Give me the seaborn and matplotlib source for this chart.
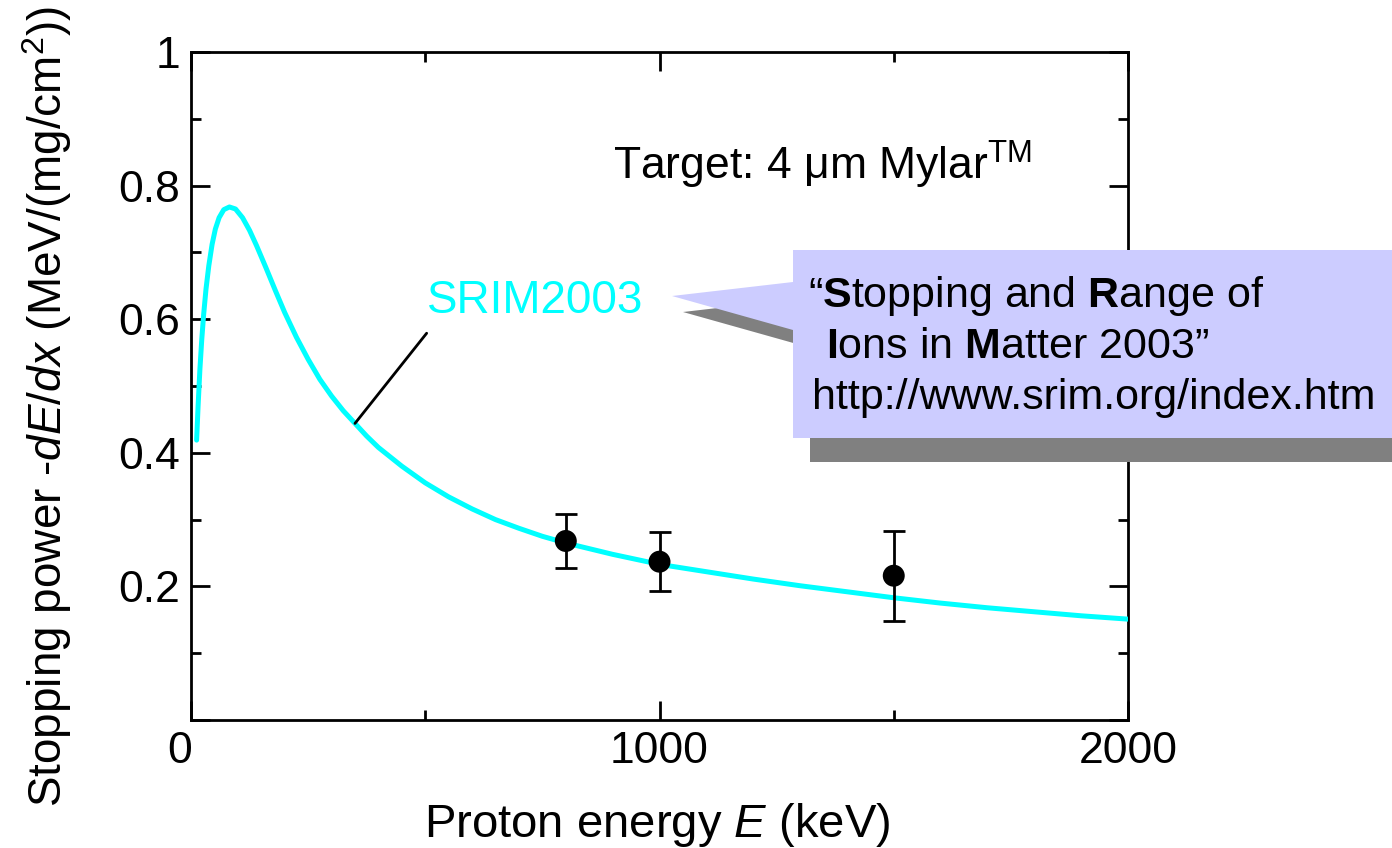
import matplotlib
matplotlib.use("Agg")
import matplotlib.pyplot as plt
import matplotlib.transforms as mtransforms
import seaborn as sns
import pandas as pd
from matplotlib import font_manager
from matplotlib.patches import Polygon

# ---------------- data ----------------
srim_energy = [12, 15, 19, 23, 27, 32, 38, 45, 52, 60, 70, 82, 95, 110, 125, 140, 160,
               180, 200, 225, 250, 275, 300, 325, 350, 375, 400, 450, 500, 550, 600,
               650, 700, 750, 800, 900, 1000, 1100, 1200, 1300, 1400, 1500, 1600, 1700,
               1800, 1900, 2000]
srim_power = [0.419, 0.468, 0.525, 0.570, 0.607, 0.645, 0.680, 0.712, 0.735, 0.752,
              0.764, 0.768, 0.765, 0.752, 0.733, 0.710, 0.677, 0.643, 0.610, 0.573,
              0.540, 0.510, 0.485, 0.463, 0.444, 0.425, 0.408, 0.380, 0.355, 0.334,
              0.316, 0.300, 0.287, 0.275, 0.265, 0.248, 0.233, 0.222, 0.211, 0.201,
              0.192, 0.183, 0.175, 0.168, 0.162, 0.156, 0.151]

exp_energy = [800, 1000, 1500]
exp_power = [0.268, 0.237, 0.216]
exp_low = [0.228, 0.193, 0.148]
exp_high = [0.308, 0.282, 0.283]

x_major = [0, 1000, 2000]
x_minor = [500, 1500]
y_major = [0.0, 0.2, 0.4, 0.6, 0.8, 1.0]
y_labels = ["", "0.2", "0.4", "0.6", "0.8", "1"]
y_minor = [0.1, 0.3, 0.5, 0.7, 0.9]

# ---------------- style ----------------
sns.set_theme(style="ticks")
names = {f.name for f in font_manager.fontManager.ttflist}
HAS_NARROW = "Liberation Sans Narrow" in names
NARROW = "Liberation Sans Narrow" if HAS_NARROW else "Liberation Sans"
plt.rcParams["font.family"] = ["Liberation Sans", "DejaVu Sans"]
plt.rcParams["mathtext.fontset"] = "custom"
plt.rcParams["mathtext.rm"] = NARROW
plt.rcParams["mathtext.it"] = NARROW + ":italic"
plt.rcParams["mathtext.bf"] = NARROW + ":bold"

W, H = 1392, 848
fig = plt.figure(figsize=(W / 100, H / 100), dpi=100)
ax = fig.add_axes([191 / W, 1 - 720 / H, (1128 - 191) / W, (720 - 52) / H])
ax.set_facecolor("white")

def fx(px):
    return px / W

def fy(py):
    return 1 - py / H

df_line = pd.DataFrame({"E": srim_energy, "S": srim_power})
df_exp = pd.DataFrame({"E": exp_energy, "S": exp_power})

sns.lineplot(data=df_line, x="E", y="S", color="#00FFFF", lw=3.6, ax=ax,
             sort=False, zorder=3)
yerr = [[p - l for p, l in zip(exp_power, exp_low)],
        [h - p for p, h in zip(exp_power, exp_high)]]
ax.errorbar(exp_energy, exp_power, yerr=yerr, fmt="none", ecolor="black",
            elinewidth=2, capsize=8, capthick=2, zorder=4)
sns.scatterplot(data=df_exp, x="E", y="S", color="black", s=250, edgecolor="none",
                ax=ax, zorder=5)

ax.set_xlim(0, 2000)
ax.set_ylim(0, 1)
ax.set_xticks(x_major)
ax.set_xticks(x_minor, minor=True)
ax.set_xticklabels([str(v) for v in x_major])
ax.set_yticks(y_major)
ax.set_yticks(y_minor, minor=True)
ax.set_yticklabels(y_labels)
ax.tick_params(which="both", direction="in", top=True, right=True, width=2,
               colors="black", labelsize=32, pad=8)
ax.tick_params(which="major", length=14)
ax.tick_params(which="minor", length=7)
for s in ax.spines.values():
    s.set_linewidth(2)
    s.set_color("black")
    s.set_visible(True)

# shift the "0" x tick label slightly left, as in the reference
lbl0 = ax.get_xticklabels()[0]
lbl0.set_transform(lbl0.get_transform() +
                   mtransforms.ScaledTranslation(-0.11, 0, fig.dpi_scale_trans))

ax.set_xlabel(r"Proton energy $\it{E}$ (keV)", fontsize=34, color="black", va="center")
ax.xaxis.set_label_coords(0.498, -0.157)
ylab_size = 34 if HAS_NARROW else 33
ax.set_ylabel(r"Stopping power -$\it{dE/dx}$ (MeV/(mg/cm$^{2}$))", fontsize=ylab_size,
              family=NARROW, color="black", va="center")
ax.yaxis.set_label_coords(-0.154, 0.47)

# target text
fig.text(fx(613), fy(165), r"Target: 4 μm Mylar$^{\rm TM}$", fontsize=32,
         va="center", ha="left", color="black")

# SRIM label and leader line
ax.text(503, 0.595, "SRIM2003", color="#00FFFF", fontsize=33, ha="left",
        va="bottom")
ax.annotate("", xy=(srim_energy[24], srim_power[24]), xytext=(503, 0.579),
            arrowprops=dict(arrowstyle="-", lw=2, color="black", shrinkA=0, shrinkB=0))

# callout with shadow
dx, dy = 17, 24
box = [(793, 250), (1400, 250), (1400, 438), (793, 438)]
pointer = [(793, 282), (672, 296), (793, 330)]

def to_fig(pts, ox=0, oy=0):
    return [(fx(x + ox), fy(y + oy)) for x, y in pts]

fig.patches.append(Polygon(to_fig(box, dx, dy), closed=True, facecolor="#808080",
                           edgecolor="none", transform=fig.transFigure, zorder=10))
fig.patches.append(Polygon(to_fig(pointer, dx - 6, dy - 8), closed=True,
                           facecolor="#808080", edgecolor="none",
                           transform=fig.transFigure, zorder=10))
fig.patches.append(Polygon(to_fig(box), closed=True, facecolor="#CCCCFF",
                           edgecolor="none", transform=fig.transFigure, zorder=11))
fig.patches.append(Polygon(to_fig(pointer), closed=True, facecolor="#CCCCFF",
                           edgecolor="none", transform=fig.transFigure, zorder=11))

csize = 36 if HAS_NARROW else 31
fig.text(fx(808), fy(296), "“$\\mathbf{S}$topping and $\\mathbf{R}$ange of",
         family=NARROW, fontsize=csize, va="center", ha="left", zorder=12, color="black")
fig.text(fx(826), fy(347), "$\\mathbf{I}$ons in $\\mathbf{M}$atter 2003”",
         family=NARROW, fontsize=csize, va="center", ha="left", zorder=12, color="black")
fig.text(fx(812), fy(398), "http://www.srim.org/index.htm",
         family=NARROW, fontsize=csize, va="center", ha="left", zorder=12, color="black")

fig.savefig("out.png", dpi=100, facecolor="white")
